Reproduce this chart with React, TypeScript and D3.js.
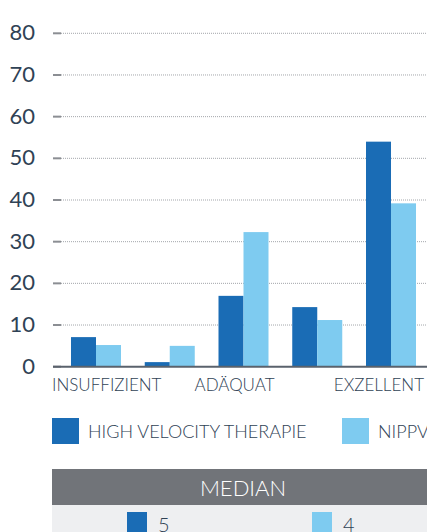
import React from "react";
import * as d3 from "d3";

const categories = ["1", "2", "3", "4", "5"];
const categoryLabels = ["INSUFFIZIENT", "", "ADÄQUAT", "", "EXZELLENT"];
const seriesNames = ["HIGH VELOCITY THERAPIE", "NIPPV"];
const highVelocity = [7.1, 1.1, 17, 14.3, 54];
const nippv = [5.2, 5, 32.3, 11.2, 39.2];
const yTicks = [0, 10, 20, 30, 40, 50, 60, 70, 80];
const medianTitle = "MEDIAN";
const medians = [5, 4];

const COLORS = ["#1a6cb5", "#7ecbf0"];
const TEXT = "#2f4255";
const FONT = "Lato, 'Open Sans', sans-serif";

export default function App() {
  const W = 427;
  const H = 532;
  const left = 53;
  const right = 434;
  const y = d3.scaleLinear().domain([0, 80]).range([366.7, 33.3]);
  const x = d3
    .scaleBand<string>()
    .domain(categories)
    .range([left, right])
    .paddingInner(0.322)
    .paddingOuter(0.244);
  const inner = d3
    .scaleBand<number>()
    .domain([0, 1])
    .range([0, x.bandwidth()]);
  const series = [highVelocity, nippv];
  const labelDx = [0, 0, -9, 0, 0];

  return (
    <div style={{ position: "fixed", left: 0, top: 0, width: W, height: H, overflow: "hidden", background: "#fff" }}>
      <svg width={W} height={H} style={{ display: "block", fontFamily: FONT, fontWeight: 300 }}>
        {/* grid */}
        {yTicks.map((t) => (
          <g key={t}>
            {t !== 0 && (
              <line x1={61} x2={right} y1={y(t)} y2={y(t)} stroke="#a3a6ab" strokeWidth={1} strokeDasharray="1,1" />
            )}
            <line x1={left} x2={61} y1={y(t)} y2={y(t)} stroke="#8b8e93" strokeWidth={2} />
            <text x={35} y={y(t) + 7} textAnchor="end" fontSize={22} fontWeight={400} fill={TEXT}>
              {t}
            </text>
          </g>
        ))}
        {/* bars */}
        {categories.map((c, i) => (
          <g key={c} transform={`translate(${x(c)},0)`}>
            {series.map((s, j) => (
              <rect
                key={j}
                x={inner(j)}
                y={y(s[i])}
                width={inner.bandwidth()}
                height={y(0) - y(s[i])}
                fill={COLORS[j]}
              />
            ))}
          </g>
        ))}
        {/* axis line */}
        <line x1={left} x2={right} y1={y(0)} y2={y(0)} stroke="#5a626c" strokeWidth={2} />
        {/* x labels */}
        {categories.map((c, i) => {
          const lbl = categoryLabels[i];
          if (!lbl) return null;
          const cx = (x(c) as number) + x.bandwidth() / 2 + labelDx[i];
          let anchor: "start" | "middle" | "end" = "middle";
          let tx = cx;
          if (i === 0) {
            anchor = "start";
            tx = left - 1;
          } else if (i === categories.length - 1) {
            anchor = "end";
            tx = (x(c) as number) + x.bandwidth() + 8;
          }
          return (
            <text key={c} x={tx} y={391} textAnchor={anchor} fontSize={17} fill={TEXT}>
              {lbl}
            </text>
          );
        })}
        {/* legend */}
        {seriesNames.map((n, j) => {
          const lx = j === 0 ? 52 : 342;
          return (
            <g key={n}>
              <rect x={lx} y={418} width={27} height={26} fill={COLORS[j]} />
              <text x={lx + 36} y={438} fontSize={18} fill={TEXT}>
                {n}
              </text>
            </g>
          );
        })}
        {/* median table */}
        <rect x={52} y={469} width={right - 52} height={36} fill="#717479" />
        <text x={(52 + right) / 2} y={496} textAnchor="middle" fontSize={22} fill="#ffffff">
          {medianTitle}
        </text>
        <rect x={52} y={505} width={right - 52} height={40} fill="#eeeff1" />
        {medians.map((m, j) => {
          const sx = j === 0 ? 127 : 312;
          return (
            <g key={j}>
              <rect x={sx} y={512} width={20} height={22} fill={COLORS[j]} />
              <text x={sx + 31} y={532} fontSize={20} fill={TEXT}>
                {m}
              </text>
            </g>
          );
        })}
      </svg>
    </div>
  );
}
